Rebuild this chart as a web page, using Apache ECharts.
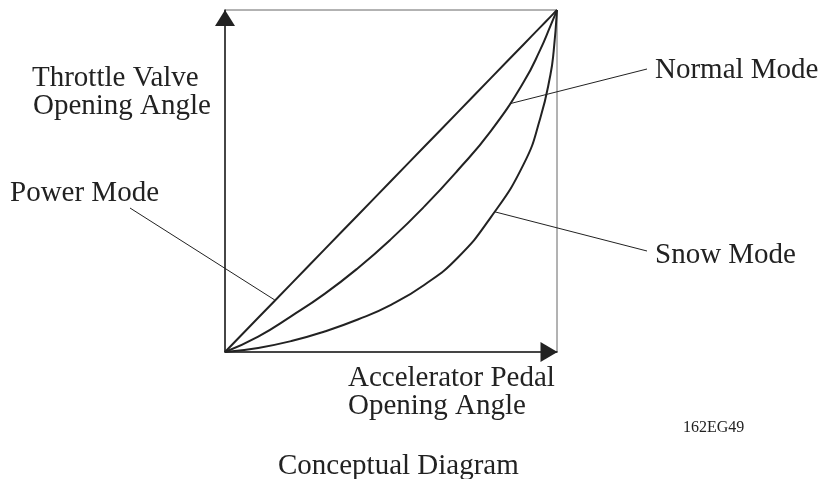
<!DOCTYPE html>
<html>
<head>
<meta charset="utf-8">
<script src="https://cdn.jsdelivr.net/npm/echarts@6/dist/echarts.min.js"></script>
<style>
  html, body { margin: 0; padding: 0; background: #fff; }
  #chart { width: 823px; height: 479px; }
</style>
</head>
<body>
<div id="chart"></div>
<script>
// pedal opening (%) and throttle opening (%) per mode
var pedal      = [0, 10, 20, 30, 40, 50, 60, 70, 80, 90, 95, 98, 99, 100];
var powerMode  = [0, 10, 20, 30, 40, 50, 60, 70, 80, 90, 95, 98, 99, 100];
var normalMode = [0, 4.5, 10.5, 17, 24.5, 33, 42.5, 53, 64.5, 79, 88.5, 95.3, 97.6, 100];
var snowMode   = [0, 1.2, 3.2, 6.0, 9.5, 13.8, 19.6, 27.5, 39.3, 55, 68.5, 81, 88, 100];

// where the leader lines touch each curve (pedal %, throttle %)
var powerAnchor  = [15, 15.2];
var normalAnchor = [85.8, 72.6];
var snowAnchor   = [81.2, 41];

var ink = '#222';
var serif = "'Liberation Serif', 'Times New Roman', serif";

function pairs(ys) {
  return pedal.map(function (x, i) { return [x, ys[i]]; });
}

function curve(name, ys) {
  return {
    name: name,
    type: 'line',
    data: pairs(ys),
    smooth: 0.5,
    showSymbol: false,
    lineStyle: { color: ink, width: 2 },
    z: 3
  };
}

function txt(text, x, y, size) {
  return {
    type: 'text',
    style: {
      text: text, x: x, y: y,
      fill: ink,
      font: (size || 29) + 'px ' + serif,
      textVerticalAlign: 'middle'
    },
    z: 10
  };
}

var chart = echarts.init(document.getElementById('chart'));

chart.setOption({
  animation: false,
  backgroundColor: '#fff',
  grid: {
    left: 225, top: 10, right: 266, bottom: 127,
    show: true, borderColor: '#666', borderWidth: 1
  },
  xAxis: {
    type: 'value', min: 0, max: 100,
    axisLine: {
      onZero: false,
      lineStyle: { color: '#222', width: 1.5 },
      symbol: ['none', 'triangle'], symbolSize: [20, 17], symbolOffset: [0, -8]
    },
    axisTick: { show: false }, axisLabel: { show: false }, splitLine: { show: false }
  },
  yAxis: {
    type: 'value', min: 0, max: 100,
    axisLine: {
      show: true, onZero: false,
      lineStyle: { color: '#222', width: 1.5 },
      symbol: ['none', 'triangle'], symbolSize: [20, 16], symbolOffset: [0, -8]
    },
    axisTick: { show: false }, axisLabel: { show: false }, splitLine: { show: false }
  },
  series: [
    curve('Power Mode', powerMode),
    curve('Normal Mode', normalMode),
    curve('Snow Mode', snowMode)
  ]
});

// leader lines from the labels to the curves
var pP = chart.convertToPixel({ gridIndex: 0 }, powerAnchor);
var pN = chart.convertToPixel({ gridIndex: 0 }, normalAnchor);
var pS = chart.convertToPixel({ gridIndex: 0 }, snowAnchor);

function leader(x1, y1, p) {
  return {
    type: 'line',
    shape: { x1: x1, y1: y1, x2: p[0], y2: p[1] },
    style: { stroke: ink, lineWidth: 1 },
    z: 5
  };
}

chart.setOption({
  graphic: [
    leader(130, 208, pP),
    leader(647, 69, pN),
    leader(647, 251, pS),
    txt('Throttle Valve', 32, 78),
    txt('Opening Angle', 33, 106),
    txt('Power Mode', 10, 193),
    txt('Normal Mode', 655, 70),
    txt('Snow Mode', 655, 255),
    txt('Accelerator Pedal', 348, 378),
    txt('Opening Angle', 348, 406),
    txt('162EG49', 683, 428, 16),
    txt('Conceptual Diagram', 278, 466)
  ]
});
</script>
</body>
</html>
